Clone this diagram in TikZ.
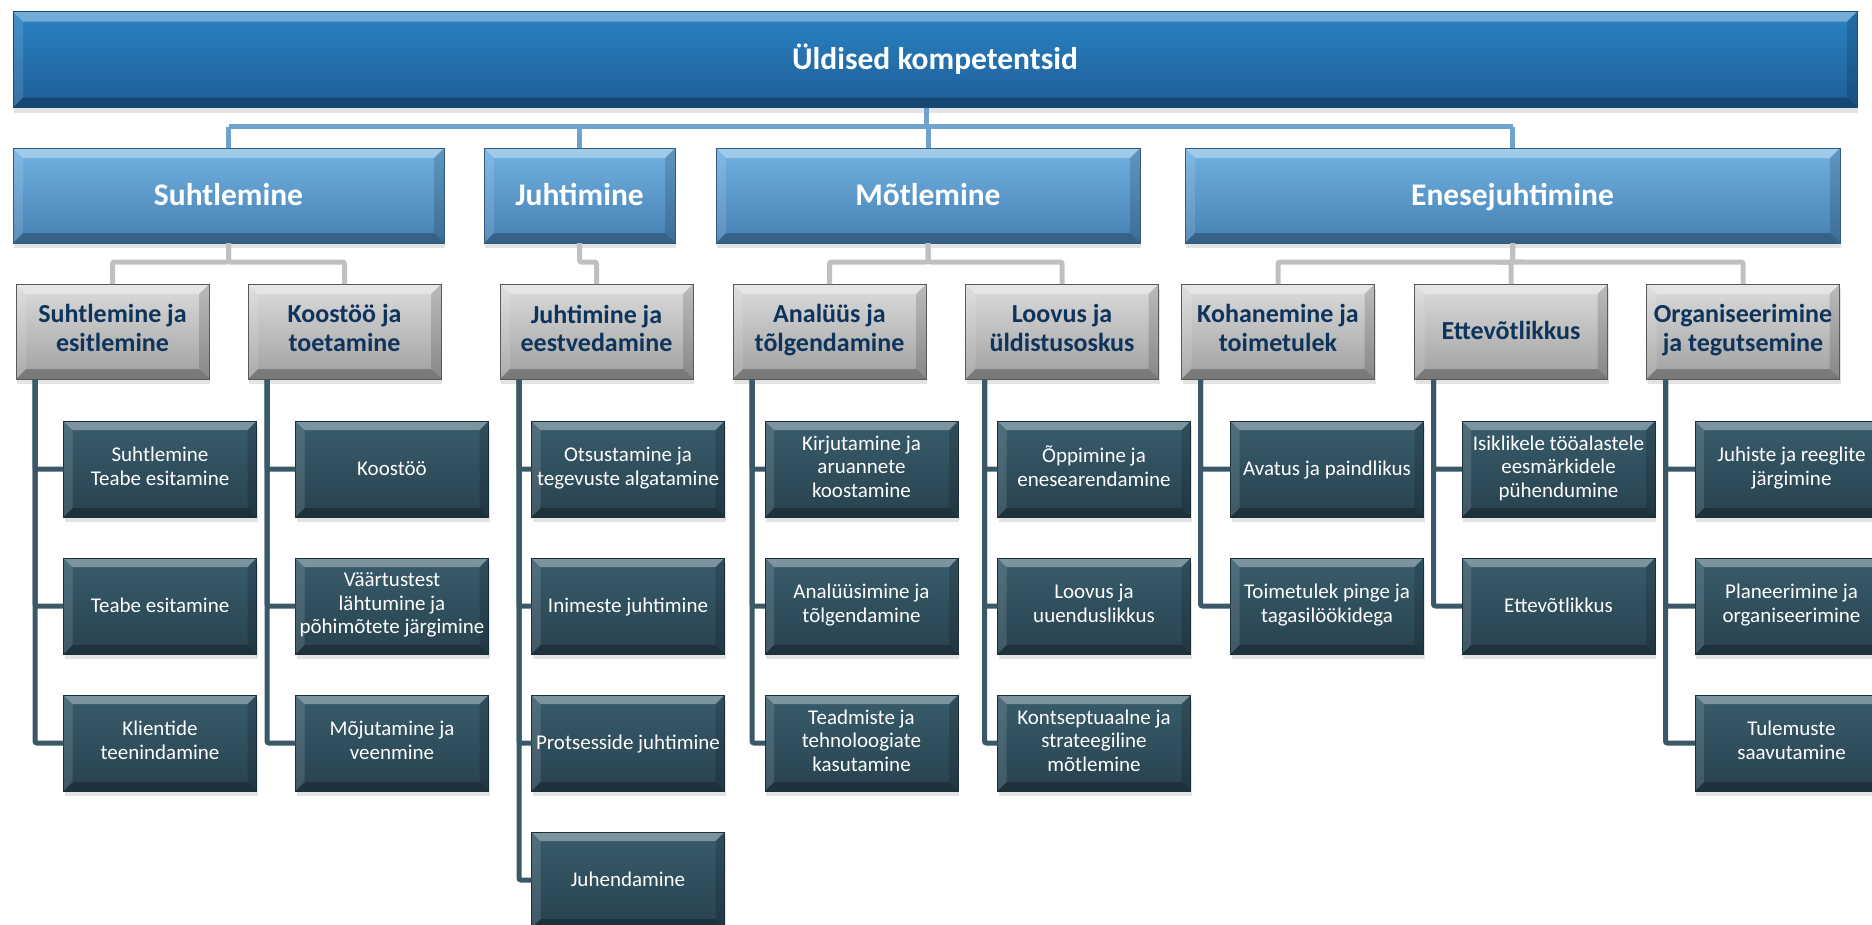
\documentclass[tikz,border=0pt]{standalone}
\usepackage{fontspec}
\setmainfont{Carlito}
\usepackage{tikz}
\usetikzlibrary{shadows}
\usetikzlibrary{calc}
\usetikzlibrary{positioning}
\usepackage{xcolor}

\definecolor{rootblue}{RGB}{42,130,196}
\definecolor{rootbluedark}{RGB}{30,94,150}
\definecolor{catblue}{RGB}{112,178,226}
\definecolor{catbluedark}{RGB}{70,128,178}
\definecolor{grouplight}{RGB}{220,220,220}
\definecolor{groupdark}{RGB}{160,160,160}
\definecolor{itemlight}{RGB}{56,92,108}
\definecolor{itemdark}{RGB}{40,66,78}
\definecolor{navytext}{RGB}{14,52,92}
\definecolor{bluewire}{RGB}{112,162,206}
\definecolor{graywire}{RGB}{192,192,192}
\definecolor{darkwire}{RGB}{58,88,102}

\newcommand\boxstrut{\rule[-0.26em]{0pt}{1.16em}}

\begin{document}
\begin{tikzpicture}[x=1pt,y=-1pt,
    bevel/.style={path picture={
        \fill[white,opacity=.35] (path picture bounding box.north west) -- (path picture bounding box.north east)
            -- ([shift={(-#1,-#1)}]path picture bounding box.north east) -- ([shift={(#1,-#1)}]path picture bounding box.north west) -- cycle;
        \fill[white,opacity=.12] (path picture bounding box.north west) -- ([shift={(#1,-#1)}]path picture bounding box.north west)
            -- ([shift={(#1,#1)}]path picture bounding box.south west) -- (path picture bounding box.south west) -- cycle;
        \fill[black,opacity=.15] (path picture bounding box.north east) -- ([shift={(-#1,-#1)}]path picture bounding box.north east)
            -- ([shift={(-#1,#1)}]path picture bounding box.south east) -- (path picture bounding box.south east) -- cycle;
        \fill[black,opacity=.25] (path picture bounding box.south west) -- (path picture bounding box.south east)
            -- ([shift={(-#1,#1)}]path picture bounding box.south east) -- ([shift={(#1,#1)}]path picture bounding box.south west) -- cycle;
    }},
    bevel/.default=10pt,
    box/.style={rectangle, inner sep=0pt, outer sep=0pt, align=center, bevel,
        execute at begin node=\boxstrut, execute at end node=\boxstrut,
        drop shadow={shadow xshift=1pt, shadow yshift=-5pt, opacity=.22}},
    rootbox/.style={box, top color=rootblue, bottom color=rootbluedark, draw=rootbluedark!80!black, line width=.8pt,
        minimum width=1844pt, minimum height=96pt, text=white, font=\fontsize{31.5}{36}\selectfont\bfseries},
    catbox/.style={box, top color=catblue, bottom color=catbluedark, draw=catbluedark!70!black, line width=.8pt,
        minimum height=95pt, text=white, font=\fontsize{31.5}{36}\selectfont\bfseries},
    groupbox/.style={box, top color=grouplight, bottom color=groupdark, draw=gray!70!black, line width=.8pt,
        minimum width=193pt, minimum height=95pt, text=navytext, font=\fontsize{26}{28.5}\selectfont\bfseries},
    itembox/.style={box, bevel=9pt, top color=itemlight, bottom color=itemdark, draw=itemdark!70!black, line width=.8pt,
        minimum width=193pt, minimum height=96pt, text=white, font=\fontsize{21}{23.5}\selectfont},
    wire/.style={line width=5pt, rounded corners=2pt},
]
\useasboundingbox (0,0) rectangle (1872,924);

% top of the chart
\node[rootbox] (root) at (935,59.5) {Üldised kompetentsid};

\node[catbox, minimum width=431pt] (suht) at (228.5,195.5) {Suhtlemine};
\node[catbox, minimum width=191pt] (juht) at (579.5,195.5) {Juhtimine};
\node[catbox, minimum width=424pt] (motl) at (928,195.5) {Mõtlemine};
\node[catbox, minimum width=655pt] (enes) at (1512.5,195.5) {Enesejuhtimine};

\node[groupbox] (g1) at (112.5,331.5) {Suhtlemine ja\\esitlemine};
\node[groupbox] (g2) at (344.5,331.5) {Koostöö ja\\toetamine};
\node[groupbox] (g3) at (596.5,331.5) {Juhtimine ja\\eestvedamine};
\node[groupbox] (g4) at (829.5,331.5) {Analüüs ja\\tõlgendamine};
\node[groupbox] (g5) at (1062,331.5) {Loovus ja\\üldistusoskus};
\node[groupbox] (g6) at (1278,331.5) {Kohanemine ja\\toimetulek};
\node[groupbox] (g7) at (1511,331.5) {Ettevõtlikkus};
\node[groupbox] (g8) at (1743,331.5) {Organiseerimine\\ja tegutsemine};

% competences, row by row
\foreach \n/\x/\r/\t in {
    c11/160/1/{Suhtlemine\\Teabe esitamine}, c12/160/2/{Teabe esitamine}, c13/160/3/{Klientide\\teenindamine},
    c21/392/1/{Koostöö}, c22/392/2/{Väärtustest\\lähtumine ja\\põhimõtete järgimine}, c23/392/3/{Mõjutamine ja\\veenmine},
    c31/628/1/{Otsustamine ja\\tegevuste algatamine}, c32/628/2/{Inimeste juhtimine},
    c33/628/3/{Protsesside juhtimine}, c34/628/4/{Juhendamine},
    c41/861.5/1/{Kirjutamine ja\\aruannete\\koostamine}, c42/861.5/2/{Analüüsimine ja\\tõlgendamine},
    c43/861.5/3/{Teadmiste ja\\tehnoloogiate\\kasutamine},
    c51/1094/1/{Õppimine ja\\enesearendamine}, c52/1094/2/{Loovus ja\\uuenduslikkus},
    c53/1094/3/{Kontseptuaalne ja\\strateegiline\\mõtlemine},
    c61/1327/1/{Avatus ja paindlikus}, c62/1327/2/{Toimetulek pinge ja\\tagasilöökidega},
    c71/1558.5/1/{Isiklikele tööalastele\\eesmärkidele\\pühendumine}, c72/1558.5/2/{Ettevõtlikkus},
    c81/1791.5/1/{Juhiste ja reeglite\\järgimine}, c82/1791.5/2/{Planeerimine ja\\organiseerimine},
    c83/1791.5/3/{Tulemuste\\saavutamine}}
    \node[itembox] (\n) at (\x,{469+137*(\r-1)}) {\t};

% connectors
\draw[wire, bluewire] ([xshift=-9pt]root.south) -- ++(0,19) coordinate (bus);
\draw[wire, bluewire] (suht.north |- bus) -- (enes.north |- bus);
\foreach \n in {suht,juht,motl,enes}
    \draw[wire, bluewire] (\n.north |- bus) -- (\n.north);

\foreach \p/\c in {suht/g1, suht/g2, juht/g3, motl/g4, motl/g5, enes/g6, enes/g7, enes/g8}
    \draw[wire, graywire] (\p.south) -- ++(0,19) -| (\c.north);

\foreach \g/\kids in {g1/{c11,c12,c13}, g2/{c21,c22,c23}, g3/{c31,c32,c33,c34}, g4/{c41,c42,c43},
        g5/{c51,c52,c53}, g6/{c61,c62}, g7/{c71,c72}, g8/{c81,c82,c83}} {
    \coordinate (spine) at ([xshift=19pt]\g.south west);
    \foreach \k in \kids
        \draw[wire, darkwire] (spine) |- (\k.west);
}

\end{tikzpicture}
\end{document}
